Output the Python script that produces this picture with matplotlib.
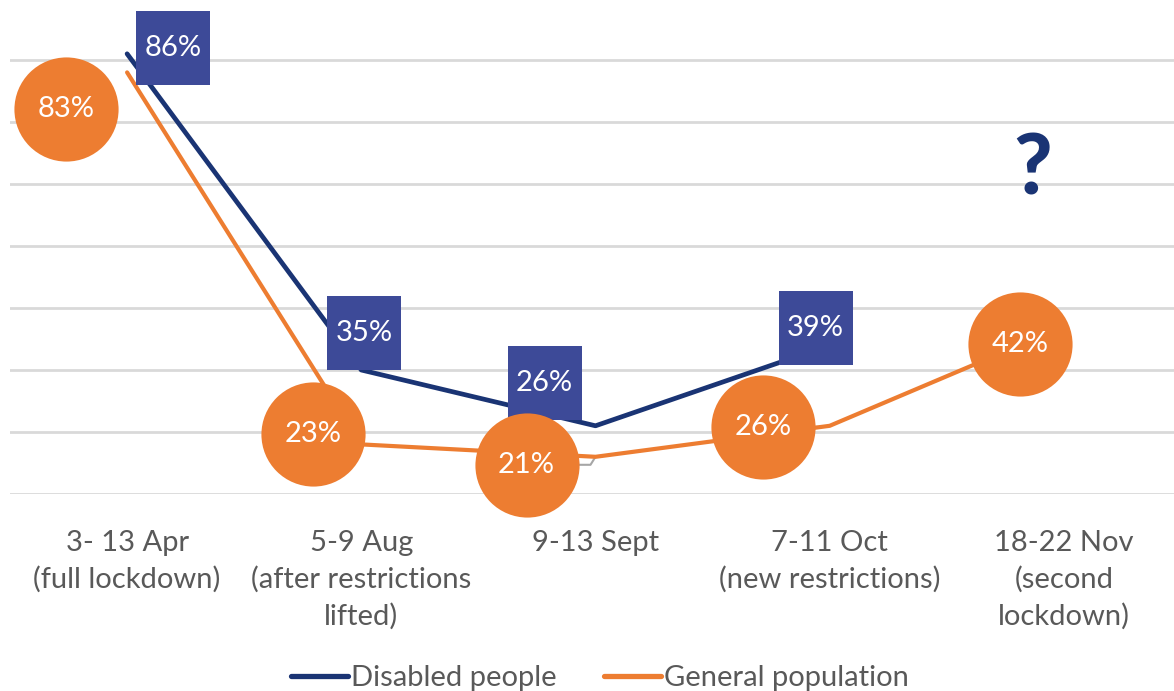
import matplotlib
matplotlib.use("Agg")
import matplotlib.pyplot as plt
import matplotlib.transforms as mtransforms
import numpy as np

# ---- data ----
categories = ["3- 13 Apr\n(full lockdown)", "5-9 Aug\n(after restrictions\nlifted)",
              "9-13 Sept", "7-11 Oct\n(new restrictions)", "18-22 Nov\n(second\nlockdown)"]
disabled = [86, 35, 26, 39, None]
general = [83, 23, 21, 26, 42]
series_names = ["Disabled people", "General population"]

# label offsets (pixels) from data point
dis_off = [(46, 6), (3, 37), (-51, 43), (-14, 17), None]
gen_off = [(-61, -37), (-48, 10), (-69, -8), (-67, -1), (-44, -17)]

LINE_BLUE = "#1A3474"
BOX_BLUE = "#3D4A98"
ORANGE = "#ED7D31"
GRID = "#D9D9D9"
TXT = "#595959"
FONT = ["Lato", "DejaVu Sans"]

plt.rcParams['font.family'] = FONT

W, H = 1174, 691
fig = plt.figure(figsize=(W / 100, H / 100), dpi=100)
ax = fig.add_axes([10 / W, (H - 494) / H, 1171 / W, 496 / H])
ax.set_xlim(-0.5, 4.5)
ax.set_ylim(15, 95)
ax.set_yticks(np.arange(15, 96, 10))
ax.yaxis.grid(True, color=GRID, lw=2)
ax.set_axisbelow(True)
ax.tick_params(axis='y', length=0, labelleft=False)
for s in ax.spines.values():
    s.set_visible(False)

x = np.arange(len(categories))
dx_ = [i for i, v in enumerate(disabled) if v is not None]
dy_ = [disabled[i] for i in dx_]
ax.plot(dx_, dy_, color=LINE_BLUE, lw=3.4, solid_capstyle='round',
        solid_joinstyle='round', zorder=2, label=series_names[0])
ax.plot(x, general, color=ORANGE, lw=3.0, solid_capstyle='round',
        solid_joinstyle='round', zorder=2, label=series_names[1])


def off(dx, dy):
    return ax.transData + mtransforms.ScaledTranslation(dx / 100, dy / 100, fig.dpi_scale_trans)


# leader lines (small grey) for Sept and Oct general population
for i in [2, 3]:
    dx, dy = gen_off[i]
    p0 = ax.transData.transform((i, general[i]))
    xs = [p0[0] + dx + 52, p0[0] - 5, p0[0]]
    ys = [p0[1] + dy, p0[1] + dy, p0[1]]
    ax.plot(xs, ys, color="#A6A6A6", lw=1.5, transform=None, zorder=1.5)

for i, v in enumerate(disabled):
    if v is None:
        continue
    dx, dy = dis_off[i]
    t = off(dx, dy)
    ax.plot([i], [v], marker='s', ms=53.5, color=BOX_BLUE, mew=0, transform=t, zorder=4,
            ls='none', clip_on=False)
    ax.text(i, v, f"{v}%", transform=t, ha='center', va='center', color='white',
            fontsize=21, zorder=5)

for i, v in enumerate(general):
    dx, dy = gen_off[i]
    t = off(dx, dy)
    ax.plot([i], [v], marker='o', ms=75, color=ORANGE, mew=0, transform=t, zorder=6,
            ls='none', clip_on=False)
    ax.text(i, v, f"{v}%", transform=t, ha='center', va='center', color='white',
            fontsize=21, zorder=7)

ax.set_xticks(x)
ax.set_xticklabels(categories, fontsize=21, color=TXT, linespacing=1.45)
ax.tick_params(axis='x', length=0, pad=26)

ax.text((1033 - 10) / 1171, (494 - 170) / 496, "?", transform=ax.transAxes,
        ha='center', va='center', fontsize=60, fontweight='black', color=LINE_BLUE)

leg = fig.legend(loc='center', bbox_to_anchor=(600 / W, 13 / H), ncol=2, frameon=False,
                 fontsize=21, handlelength=1.95, handletextpad=0.12, columnspacing=1.6,
                 labelcolor=TXT)
for h in leg.get_lines():
    h.set_linewidth(3.8)
    h.set_solid_capstyle('round')

fig.savefig("out.png", dpi=100)
